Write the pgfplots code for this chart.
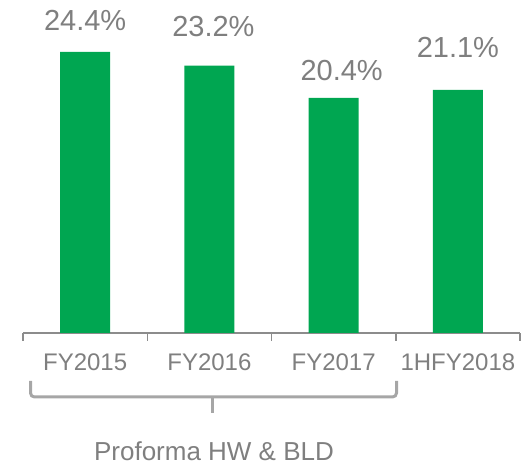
\documentclass[border=0pt]{standalone}
\usepackage{pgfplots}
\pgfplotsset{compat=1.18}
\usepackage{pgfplotstable}
\usepackage{fontspec}
\setmainfont{Liberation Sans}
\definecolor{bargreen}{HTML}{00A651}
\definecolor{txtgray}{HTML}{7F7F7F}
\definecolor{axgray}{HTML}{8C8C8C}
\definecolor{brgray}{HTML}{A6A6A6}
\pgfplotstableread{
x y lab dx dy
0 24.4 24.4 0 21
1 23.2 23.2 4 29
2 20.4 20.4 8 17
3 21.1 21.1 0 32
}\datatable
\begin{document}
\begin{tikzpicture}[x=1pt,y=1pt]
\useasboundingbox (0,0) rectangle (525,465);
\begin{axis}[
  at={(23pt,132pt)}, anchor=south west,
  scale only axis, width=497pt, height=333pt,
  xmin=-0.5, xmax=3.5, ymin=0, ymax=28.9,
  axis y line=none, axis x line*=bottom,
  x axis line style={axgray, line width=1.5pt},
  xtick={0,1,2,3},
  xticklabels={FY2015,FY2016,FY2017,1HFY2018},
  major tick length=0pt,
  extra x ticks={-0.5,0.5,1.5,2.5,3.5},
  extra x tick labels={},
  extra x tick style={major tick length=8pt, tick align=outside, tick style={axgray, line width=1.5pt}},
  xticklabel style={font=\fontsize{24}{28}\selectfont, text=txtgray, anchor=base, yshift=-38pt},
  clip=false,
]
\addplot[ybar, bar width=50pt, fill=bargreen, draw=none,
  point meta=explicit symbolic,
  nodes near coords={\pgfplotspointmeta\%},
  visualization depends on={\thisrow{dx} \as \dx},
  visualization depends on={\thisrow{dy} \as \dy},
  every node near coord/.append style={font=\fontsize{29}{34}\selectfont, text=txtgray, anchor=base, xshift=\dx pt, yshift=\dy pt, inner sep=0pt},
] table[x=x, y=y, meta=lab] {\datatable};
\end{axis}
\draw[brgray, line width=3pt, rounded corners=4pt] (30.5,84) -- (30.5,68) -- (396.5,68) -- (396.5,84);
\draw[brgray, line width=3pt] (212,68) -- (212,52);
\node[anchor=base, text=txtgray, font=\fontsize{26}{30}\selectfont, inner sep=0pt] at (214,4) {Proforma HW \& BLD};
\end{tikzpicture}
\end{document}
